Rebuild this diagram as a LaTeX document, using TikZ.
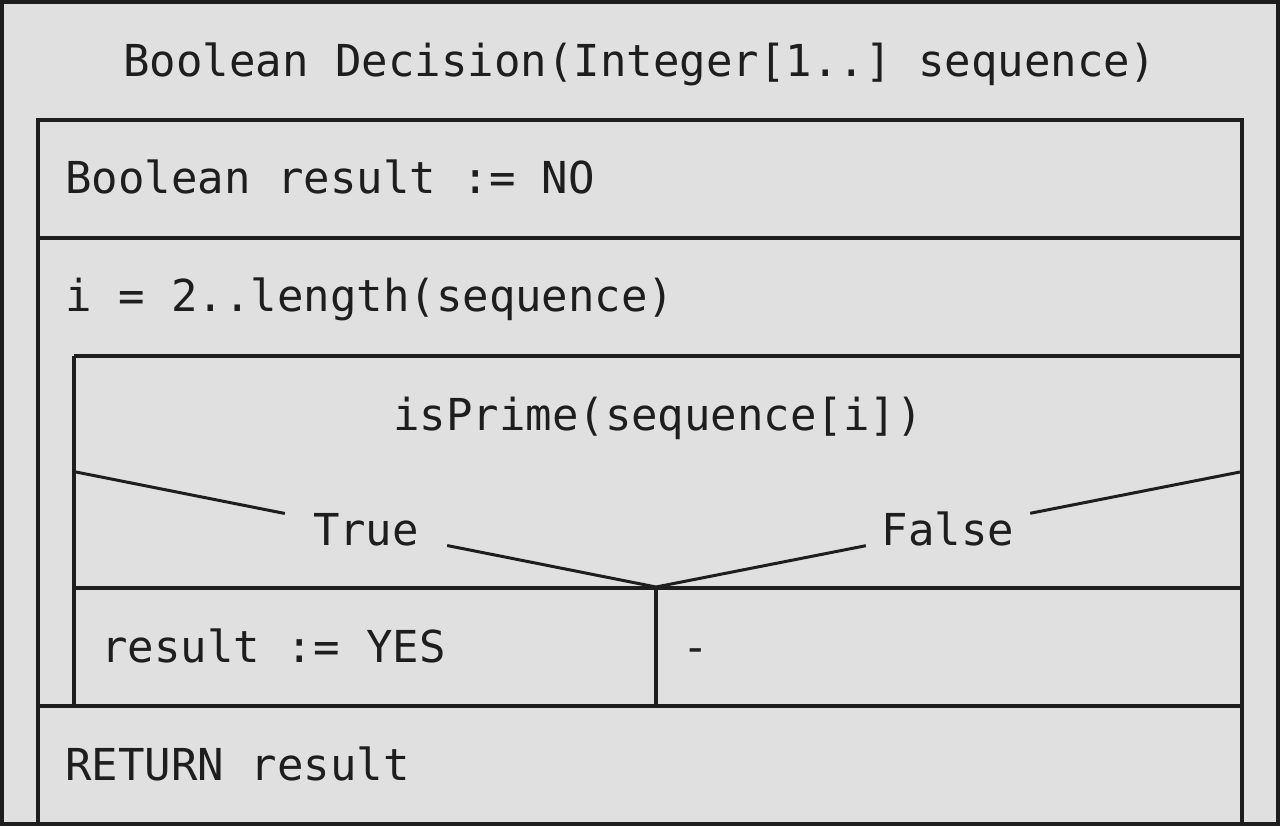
\documentclass[tikz,border=0pt]{standalone}
\usepackage{fontspec}
\setmonofont{DejaVu Sans Mono}
\usepackage{tikz}
\usetikzlibrary{positioning, calc}
\definecolor{nsFill}{HTML}{E0E0E0}
\definecolor{nsInk}{HTML}{1E1E1E}
\tikzset{
    ns_frame/.style={
        draw=nsInk, line width=4pt, fill=nsFill
    },
    ns_rule/.style={
        draw=nsInk, line width=4pt
    },
    ns_diag/.style={
        draw=nsInk, line width=3pt
    },
    ns_text/.style={
        anchor=base west, inner sep=0pt, text=nsInk,
        font=\ttfamily\fontsize{44}{50}\selectfont
    },
    ns_title/.style={
        ns_text, anchor=base
    },
    ns_case/.style={
        rectangle, inner xsep=28pt, inner ysep=0pt, text=nsInk,
        text height=32pt, text depth=0pt,
        font=\ttfamily\fontsize{44}{50}\selectfont
    }
}

\begin{document}
\begin{tikzpicture}[x=1pt, y=-1pt]
    \useasboundingbox (0,0) rectangle (1280,826);

    % Outer frame and procedure head
    \draw[ns_frame] (2,2) rectangle (1278,824);
    \node[ns_title] (head) at (640,77) {Boolean Decision(Integer[1..] sequence)};

    % Body of the procedure
    \draw[ns_rule] (38,824) -- (38,120) -- (1242,120) -- (1242,824);
    \draw[ns_rule] (38,238) -- (1242,238);
    \draw[ns_rule] (74,356) -- (1242,356);
    \draw[ns_rule] (74,356) -- (74,706);
    \draw[ns_rule] (74,588) -- (1242,588);
    \draw[ns_rule] (656,588) -- (656,706);
    \draw[ns_rule] (38,706) -- (1242,706);

    % Statements
    \node[ns_text] (init) at (65,194) {Boolean result := NO};
    \node[ns_text] (loop) at (65,312) {i = 2..length(sequence)};
    \node[ns_title] (cond) at (658,430) {isPrime(sequence[i])};
    \node[ns_text] (yes) at (101,662) {result := YES};
    \node[ns_text] (none) at (682,662) {-};
    \node[ns_text] (ret) at (65,780) {RETURN result};

    % Decision triangle with case labels on the slopes
    \coordinate (left_corner) at (76,472);
    \coordinate (right_corner) at (1240,472);
    \coordinate (apex) at (656,587);
    \node[ns_case] (true_case) at ($(left_corner)!0.5!(apex)$) {True};
    \node[ns_case] (false_case) at ($(right_corner)!0.5!(apex)$) {False};
    \draw[ns_diag] (left_corner) -- (true_case);
    \draw[ns_diag] (true_case) -- (apex);
    \draw[ns_diag] (right_corner) -- (false_case);
    \draw[ns_diag] (false_case) -- (apex);
\end{tikzpicture}
\end{document}
